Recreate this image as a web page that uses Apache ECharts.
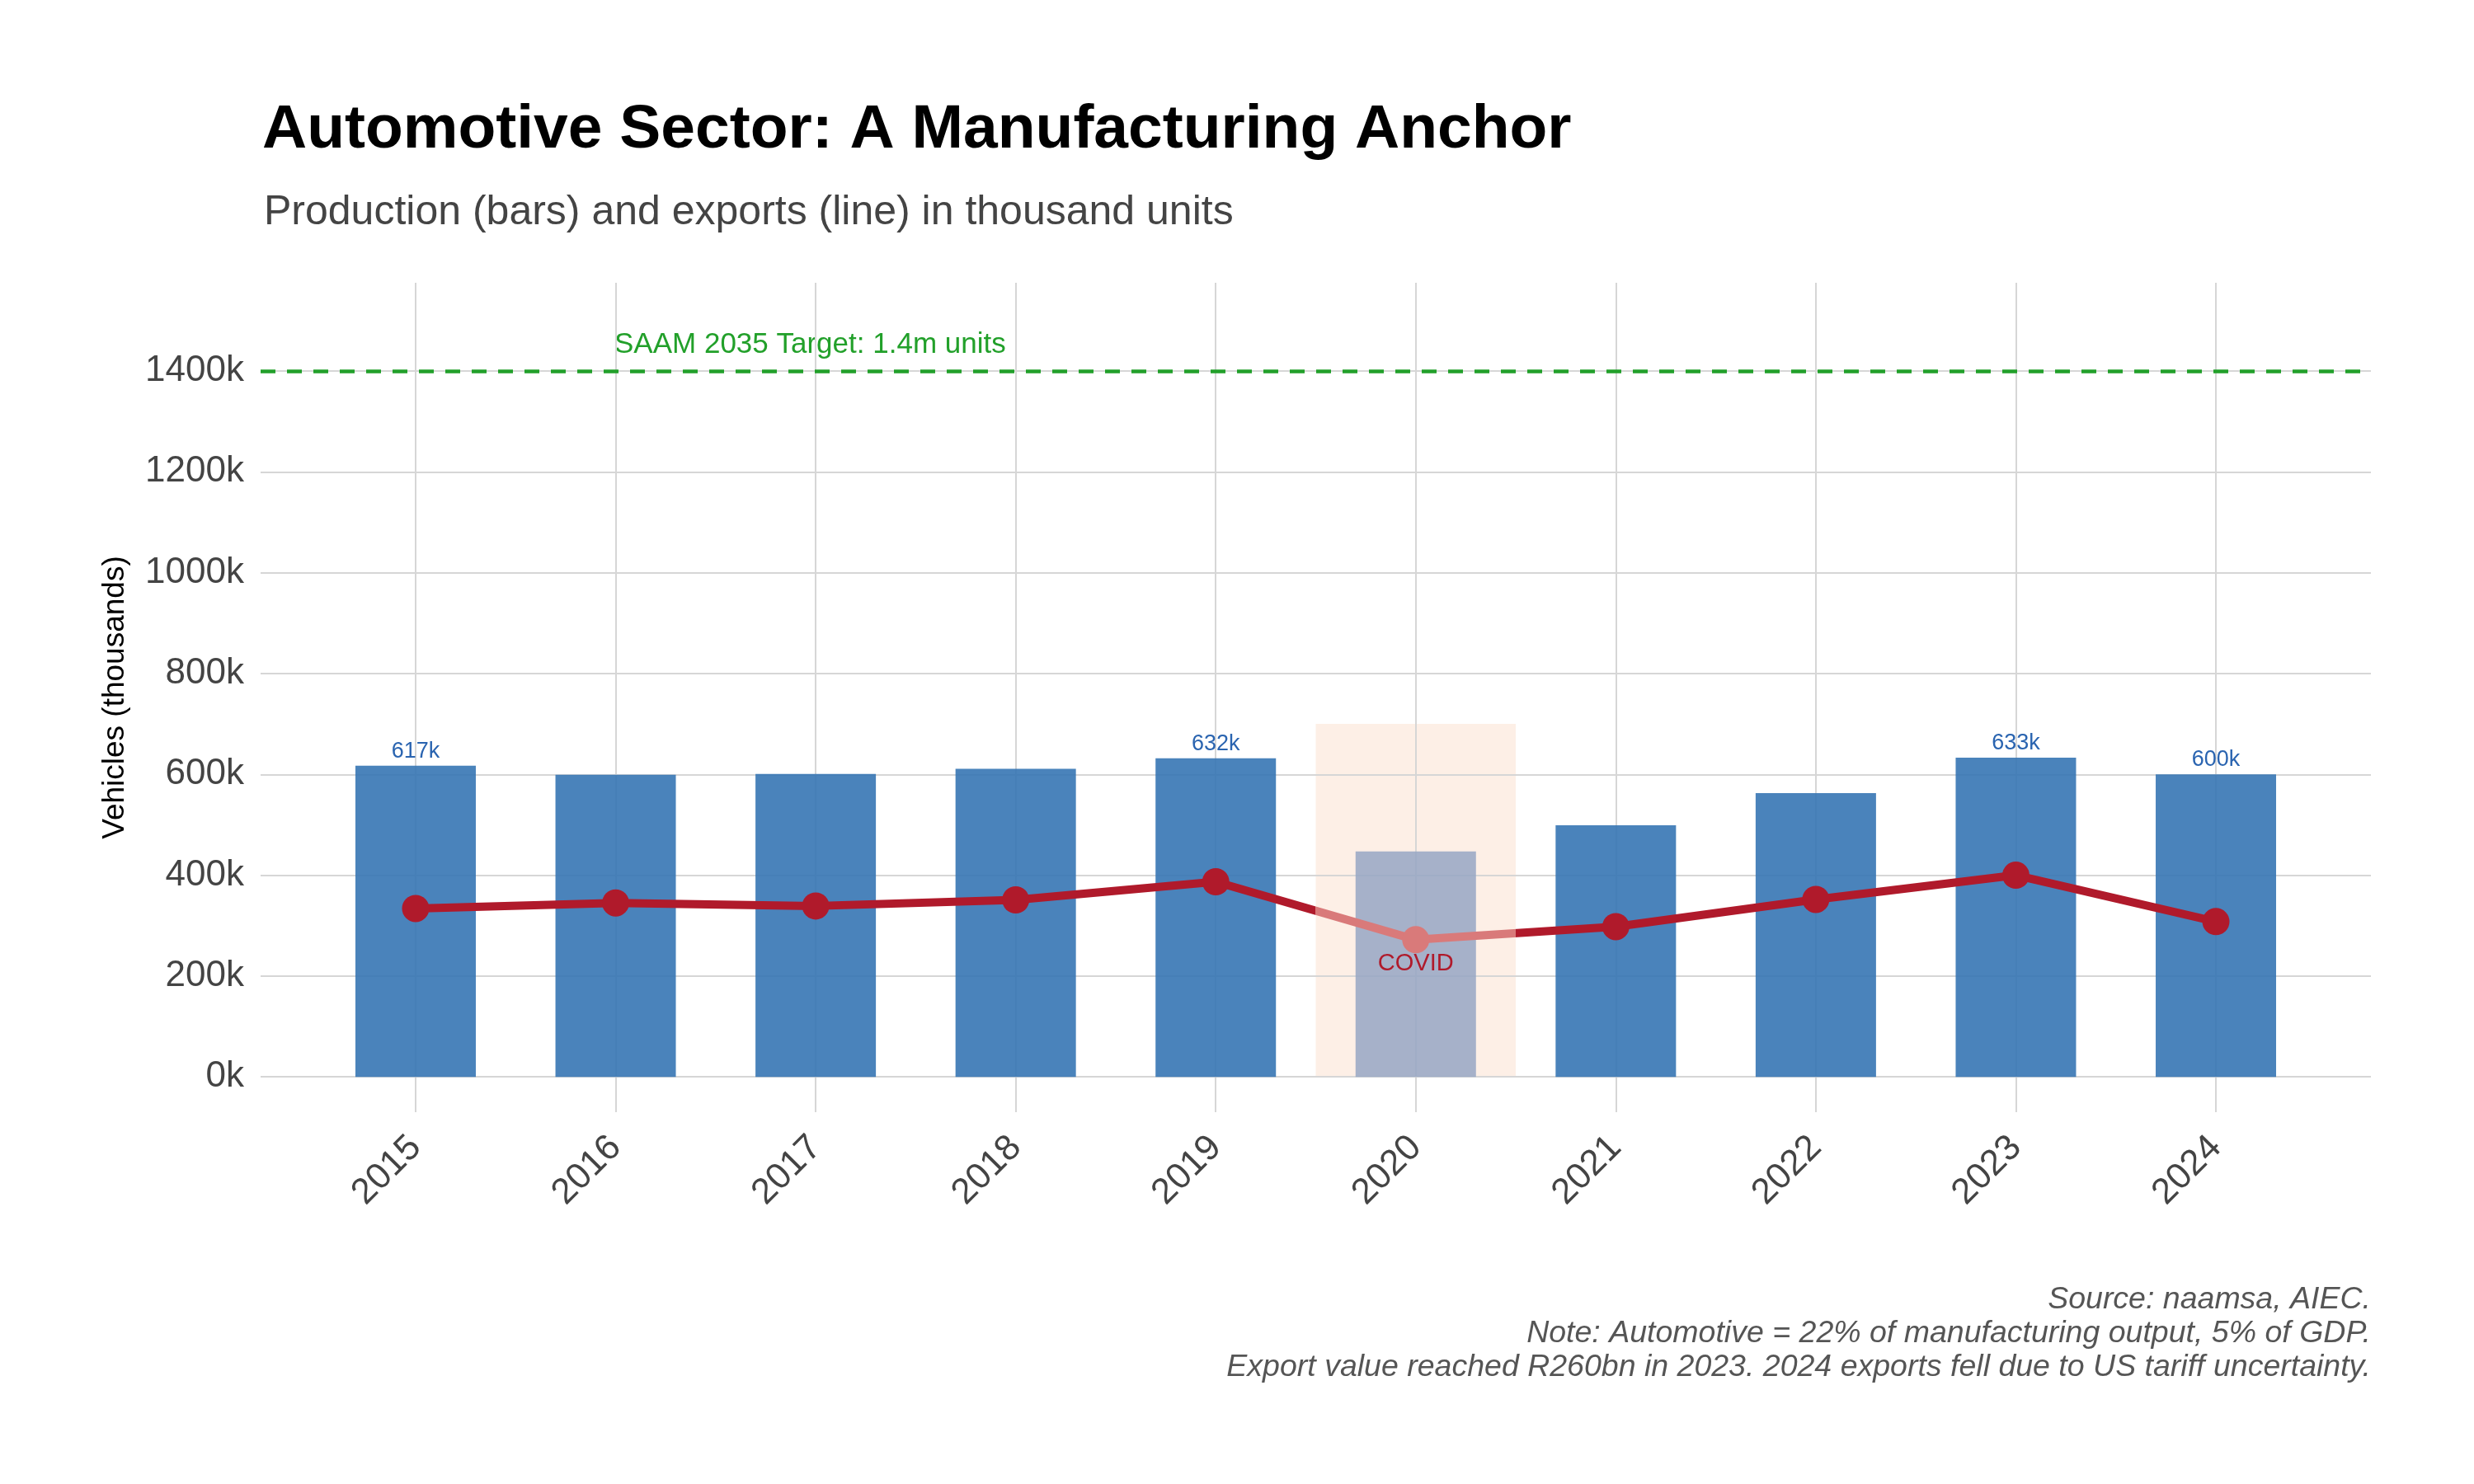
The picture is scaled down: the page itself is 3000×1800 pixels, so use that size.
<!DOCTYPE html>
<html><head><meta charset="utf-8">
<script src="https://cdn.jsdelivr.net/npm/echarts@6/dist/echarts.min.js"></script>
<style>html,body{margin:0;background:#fff}#c{width:3000px;height:1800px}</style>
</head><body><div id="c"></div>
<script>
const years = ['2015','2016','2017','2018','2019','2020','2021','2022','2023','2024'];
const production = [617, 599, 601, 611, 632, 447, 499, 563, 633, 600];
const exportsK = [334, 345, 339, 351, 387, 272, 298, 352, 400, 308];
const labelledYears = ['2015','2019','2023','2024'];
const yTicks = [0, 200, 400, 600, 800, 1000, 1200, 1400];
const target = 1400;
const covidYear = '2020';
const covidTop = 700;
const captionLines = ['Source: naamsa, AIEC.',
  'Note: Automotive = 22% of manufacturing output, 5% of GDP.',
  'Export value reached R260bn in 2023. 2024 exports fell due to US tariff uncertainty.'];

const ci = years.indexOf(covidYear);
const F = 'Liberation Sans, Arial, sans-serif';
const chart = echarts.init(document.getElementById('c'));
chart.setOption({
  animation:false,
  textStyle:{fontFamily:F},
  title:[
    {text:'Automotive Sector: A Manufacturing Anchor', left:313, top:116, textStyle:{fontSize:75,fontWeight:'bold',color:'#000',fontFamily:F}},
    {text:'Production (bars) and exports (line) in thousand units', left:315, top:228, textStyle:{fontSize:50,fontWeight:'normal',color:'#444',fontFamily:F}}
  ],
  grid:{left:316, right:125, top:343, bottom:451},
  xAxis:{type:'value', min:-0.775, max:9.775,
    axisLine:{show:false}, axisTick:{show:false}, splitLine:{show:false},
    axisLabel:{customValues:years.map((y,i)=>i), formatter:v=>years[Math.round(v)]||'', rotate:45, fontSize:44, color:'#444', margin:36}},
  yAxis:{type:'value', min:-70, max:1575, name:'Vehicles (thousands)', nameLocation:'middle', nameGap:158,
    nameTextStyle:{fontSize:37,color:'#000'},
    axisLine:{show:false}, axisTick:{show:false}, splitLine:{show:false},
    axisLabel:{customValues:yTicks, formatter:v=>v+'k', fontSize:44, color:'#444', margin:20}},
  visualMap:{show:false, type:'piecewise', seriesIndex:2, dimension:0,
    pieces:[{gte:ci-0.5, lte:ci+0.5, color:'#d97a7a'}], outOfRange:{color:'#b01a2b'}},
  series:[
    {type:'line', data:[], zlevel:0, z:0, silent:true,
     markLine:{silent:true, symbol:'none', label:{show:false},
       data:[...yTicks.map(v=>({yAxis:v, lineStyle:{color:'#d6d6d6',width:2,type:'solid'}})),
             ...years.map((y,i)=>({xAxis:i, lineStyle:{color:'#d6d6d6',width:2,type:'solid'}})),
             {yAxis:target, lineStyle:{color:'#22a02a',width:4.5,type:[18,14]}}]},
     markArea:{silent:true, itemStyle:{color:'rgba(252,228,214,0.6)'},
       data:[[{xAxis:ci-0.5, yAxis:0},{xAxis:ci+0.5, yAxis:covidTop}]]}},
    {type:'bar', barWidth:146, zlevel:1, z:2,
     data:production.map((v,i)=>({value:[i,v],
       itemStyle:{color: years[i]===covidYear ? 'rgba(150,166,195,0.85)' : 'rgba(54,117,180,0.9)'},
       label:{show:labelledYears.includes(years[i]), position:'top', distance:4, formatter:v+'k', fontSize:27, color:'#2a64b0'}}))},
    {type:'line', zlevel:1, z:3, symbol:'circle', symbolSize:33, lineStyle:{width:10},
     data:exportsK.map((v,i)=>({value:[i,v],
       label:{show:years[i]===covidYear, position:'bottom', distance:-2, formatter:'COVID', fontSize:29, color:'#b01a2b'}}))}
  ],
  graphic:[
    {type:'text', left:745, top:401, style:{text:'SAAM 2035 Target: 1.4m units', fontSize:35, fill:'#22a02a', fontFamily:F}},
    {type:'text', x:2875, y:1556, style:{text:captionLines.join('\n'), align:'right', fontSize:37.5, lineHeight:41, fontStyle:'italic', fill:'#555', fontFamily:F}}
  ]
});
</script></body></html>
